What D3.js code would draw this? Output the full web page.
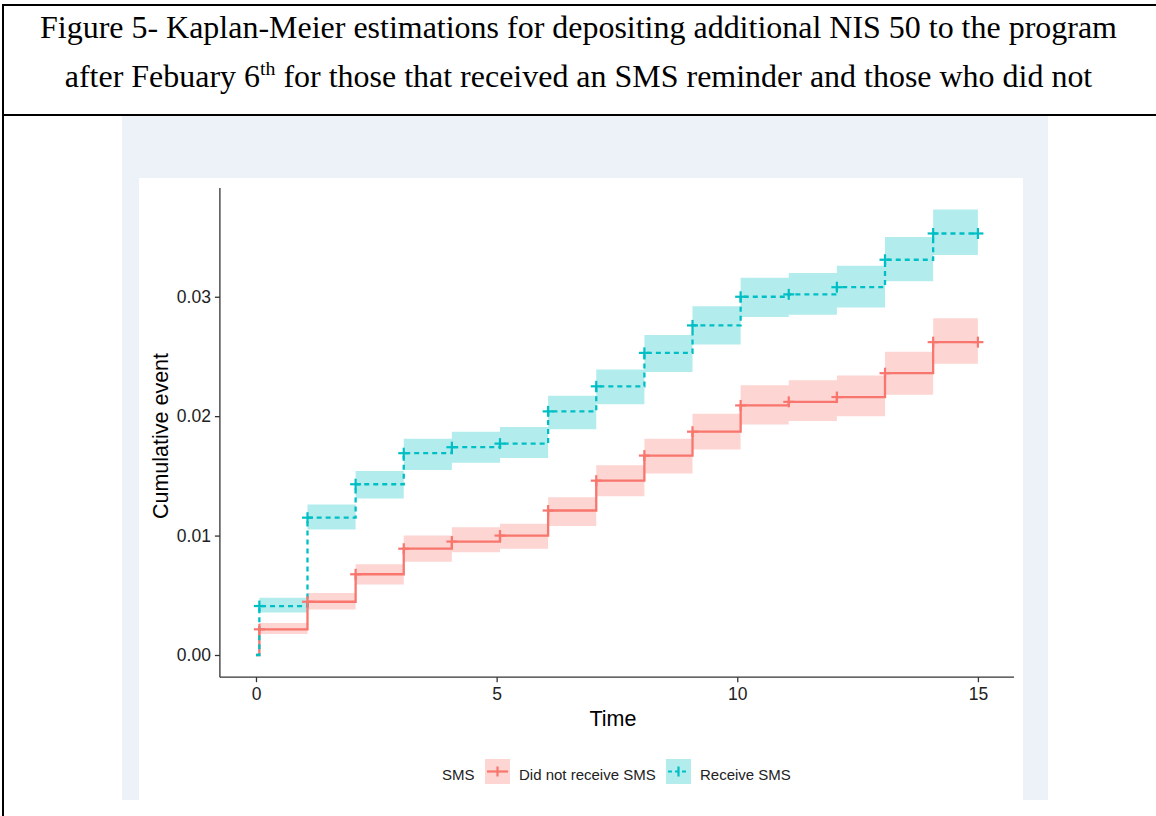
<!DOCTYPE html>
<html>
<head>
<meta charset="utf-8">
<script src="https://cdn.jsdelivr.net/npm/d3@7"></script>
<style>
  html, body { margin: 0; padding: 0; background: #ffffff; }
  svg { display: block; }
</style>
</head>
<body>
<svg id="chart" width="1156" height="816"></svg>
<script>
// ---------------- DATA ----------------
const titleLine1 = "Figure 5- Kaplan-Meier estimations for depositing additional NIS 50 to the program";
const titleLine2a = "after Febuary 6";
const titleLine2sup = "th";
const titleLine2b = " for those that received an SMS reminder and those who did not";

const groups = ["Did not receive SMS", "Receive SMS"];
const legendTitle = "SMS";
const xLabel = "Time";
const yLabel = "Cumulative event";

const xTicks = [0, 5, 10, 15];
const yTicks = [0.00, 0.01, 0.02, 0.03];

// event times (step positions) and end of follow-up
const eventTimes = [0.07, 1.07, 2.07, 3.07, 4.07, 5.07, 6.07, 7.07, 8.07, 9.07, 10.07, 11.07, 12.07, 13.07, 14.07];
const endTime = 15;

// Did not receive SMS
const noSmsEst   = [0.00215, 0.00446, 0.00676, 0.0089, 0.0095, 0.0100, 0.0121, 0.0146, 0.0167, 0.0187, 0.0209, 0.0212, 0.0216, 0.0236, 0.0262];
const noSmsLower = [0.00176, 0.0038, 0.0059, 0.0078, 0.0086, 0.0089, 0.0108, 0.0133, 0.0152, 0.0172, 0.0193, 0.0196, 0.0200, 0.0218, 0.0244];
const noSmsUpper = [0.00268, 0.0052, 0.0076, 0.0100, 0.0107, 0.0110, 0.0132, 0.0159, 0.0181, 0.0202, 0.0226, 0.0230, 0.0234, 0.0254, 0.0282];

// Receive SMS
const smsEst   = [0.0041, 0.0115, 0.0143, 0.0169, 0.0174, 0.0177, 0.0204, 0.0225, 0.0253, 0.0276, 0.0300, 0.0302, 0.0308, 0.0331, 0.0353];
const smsLower = [0.00355, 0.0105, 0.0131, 0.0155, 0.0161, 0.0165, 0.0189, 0.0210, 0.0237, 0.0260, 0.0283, 0.0285, 0.0291, 0.0313, 0.0335];
const smsUpper = [0.0048, 0.0126, 0.0154, 0.0181, 0.0187, 0.0191, 0.0217, 0.0239, 0.0268, 0.0292, 0.0316, 0.0320, 0.0326, 0.0350, 0.0373];

// ---------------- STYLE ----------------
const colors = ["#F8766D", "#00BFC4"];
const dashes = [null, "5,4"];

const svg = d3.select("#chart");

// Table borders
svg.append("rect").attr("x", 0).attr("y", 0).attr("width", 1156).attr("height", 816).attr("fill", "#fff");
svg.append("line").attr("x1", 2).attr("x2", 1156).attr("y1", 5).attr("y2", 5).attr("stroke", "#000").attr("stroke-width", 2);
svg.append("line").attr("x1", 3).attr("x2", 3).attr("y1", 4).attr("y2", 816).attr("stroke", "#000").attr("stroke-width", 2);
svg.append("line").attr("x1", 2).attr("x2", 1156).attr("y1", 115).attr("y2", 115).attr("stroke", "#000").attr("stroke-width", 2.2);

// Title
const serif = "'Liberation Serif', 'Times New Roman', Times, serif";
const t1 = svg.append("text").attr("x", 578.5).attr("y", 38).attr("text-anchor", "middle")
  .attr("font-family", serif).attr("font-size", 28).attr("fill", "#000").text(titleLine1);
let w1 = t1.node().getComputedTextLength();
let fs = 28 * 1077 / w1;
t1.attr("font-size", fs);
const t2 = svg.append("text").attr("x", 578.5).attr("y", 87).attr("text-anchor", "middle")
  .attr("font-family", serif).attr("font-size", fs).attr("fill", "#000");
t2.append("tspan").text(titleLine2a);
t2.append("tspan").attr("font-size", fs * 0.62).attr("dy", -fs * 0.38).text(titleLine2sup);
t2.append("tspan").attr("dy", fs * 0.38).text(titleLine2b);

// Panel backgrounds
svg.append("rect").attr("x", 122).attr("y", 116).attr("width", 926).attr("height", 684).attr("fill", "#EDF1F8");
svg.append("rect").attr("x", 139).attr("y", 178).attr("width", 884).attr("height", 622).attr("fill", "#ffffff");

// Scales
const x = d3.scaleLinear().domain([-0.75, 15.75]).range([219.9, 1014]);
const y = d3.scaleLinear().domain([-0.00186, 0.0391]).range([677.2, 188.1]);

const sans = "'Liberation Sans', Arial, Helvetica, sans-serif";

// Bands
const seriesEst = [noSmsEst, smsEst];
const seriesLo = [noSmsLower, smsLower];
const seriesHi = [noSmsUpper, smsUpper];

const plot = svg.append("g");

seriesEst.forEach((est, g) => {
  const pts = eventTimes.map((t, i) => ({ t, lo: seriesLo[g][i], hi: seriesHi[g][i] }));
  pts.push({ t: endTime, lo: seriesLo[g][est.length - 1], hi: seriesHi[g][est.length - 1] });
  const area = d3.area().curve(d3.curveStepAfter)
    .x(d => x(d.t)).y0(d => y(d.lo)).y1(d => y(d.hi));
  plot.append("path").datum(pts).attr("d", area)
    .attr("fill", colors[g]).attr("fill-opacity", 0.3).attr("stroke", "none");
});

// Lines (draw red first then cyan on top)
seriesEst.forEach((est, g) => {
  const pts = [{ t: 0, v: 0 }].concat(eventTimes.map((t, i) => ({ t, v: est[i] })));
  pts.push({ t: endTime, v: est[est.length - 1] });
  const line = d3.line().curve(d3.curveStepAfter).x(d => x(d.t)).y(d => y(d.v));
  const p = plot.append("path").datum(pts).attr("d", line)
    .attr("fill", "none").attr("stroke", colors[g]).attr("stroke-width", 2.3);
  if (dashes[g]) p.attr("stroke-dasharray", dashes[g]);
});

// Censor crosses
seriesEst.forEach((est, g) => {
  const pts = eventTimes.map((t, i) => ({ t, v: est[i] }));
  pts.push({ t: endTime, v: est[est.length - 1] });
  const s = 5.5;
  const cg = plot.append("g").attr("stroke", colors[g]).attr("stroke-width", 2.2);
  pts.forEach(d => {
    cg.append("line").attr("x1", x(d.t) - s).attr("x2", x(d.t) + s).attr("y1", y(d.v)).attr("y2", y(d.v));
    cg.append("line").attr("x1", x(d.t)).attr("x2", x(d.t)).attr("y1", y(d.v) - s).attr("y2", y(d.v) + s);
  });
});

// Axes
const axisColor = "#333333";
const yAxis = svg.append("g").attr("transform", `translate(${x(-0.75)},0)`)
  .call(d3.axisLeft(y).tickValues(yTicks).tickFormat(d3.format(".2f")).tickSize(5).tickPadding(4));
const xAxis = svg.append("g").attr("transform", `translate(0,${y(-0.00186)})`)
  .call(d3.axisBottom(x).tickValues(xTicks).tickFormat(d3.format("d")).tickSize(5).tickPadding(5));
[yAxis, xAxis].forEach(a => {
  a.select(".domain").attr("stroke", axisColor).attr("stroke-width", 1.3);
  a.selectAll(".tick line").attr("stroke", axisColor).attr("stroke-width", 1.3);
  a.selectAll(".tick text").attr("fill", "#222").attr("font-family", sans).attr("font-size", 17.5);
});
// remove outer tick ends (axis domain path with no end ticks)
yAxis.select(".domain").attr("d", `M0,${y(0.0391)}V${y(-0.00186)}`);
xAxis.select(".domain").attr("d", `M${x(-0.75)},0H${x(15.75)}`);

// Axis titles
svg.append("text").attr("x", 613).attr("y", 726).attr("text-anchor", "middle")
  .attr("font-family", sans).attr("font-size", 21.5).attr("fill", "#000").text(xLabel);
svg.append("text").attr("transform", "translate(168,436) rotate(-90)").attr("text-anchor", "middle")
  .attr("font-family", sans).attr("font-size", 21.5).attr("fill", "#000").text(yLabel);

// Legend
const lg = svg.append("g").attr("font-family", sans).attr("font-size", 15).attr("fill", "#222");
lg.append("text").attr("x", 442).attr("y", 780).text(legendTitle);
const keyX = [485, 666];
const labX = [519, 700];
groups.forEach((name, g) => {
  const kx = keyX[g], ky = 759, kw = 25, kh = 25;
  lg.append("rect").attr("x", kx).attr("y", ky).attr("width", kw).attr("height", kh)
    .attr("fill", colors[g]).attr("fill-opacity", 0.3);
  const ln = lg.append("line").attr("x1", kx + 2).attr("x2", kx + kw - 2).attr("y1", ky + kh / 2).attr("y2", ky + kh / 2)
    .attr("stroke", colors[g]).attr("stroke-width", 2.2);
  if (dashes[g]) ln.attr("stroke-dasharray", "4,3");
  lg.append("line").attr("x1", kx + kw / 2).attr("x2", kx + kw / 2).attr("y1", ky + kh / 2 - 5).attr("y2", ky + kh / 2 + 5)
    .attr("stroke", colors[g]).attr("stroke-width", 2.2);
  lg.append("text").attr("x", labX[g]).attr("y", 780).text(name);
});
</script>
</body>
</html>
